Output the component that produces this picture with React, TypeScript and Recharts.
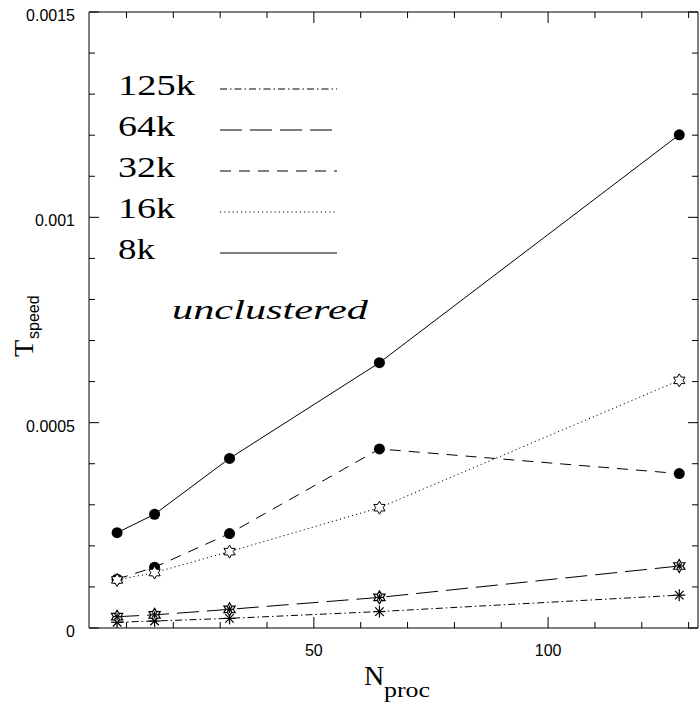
import { Legend, Line, LineChart, XAxis, YAxis } from "recharts";

// N_proc values and T_speed per problem size
const nproc = [8, 16, 32, 64, 128];
const t125k = [0.000014, 0.000017, 0.0000235, 0.00004, 0.00008];
const t64k = [0.0000275, 0.000032, 0.0000455, 0.0000745, 0.000151];
const t32k = [0.000119, 0.000148, 0.00023, 0.000436, 0.000376];
const t16k = [0.000117, 0.000135, 0.000186, 0.000293, 0.000603];
const t8k = [0.000232, 0.000277, 0.000413, 0.000646, 0.001201];

const seriesNames = ["125k", "64k", "32k", "16k", "8k"];

const xTicks = [10, 20, 30, 40, 50, 60, 70, 80, 90, 100, 110, 120, 130];
const xMajor = [50, 100];
const yTicks = [
  0, 0.0001, 0.0002, 0.0003, 0.0004, 0.0005, 0.0006, 0.0007, 0.0008, 0.0009,
  0.001, 0.0011, 0.0012, 0.0013, 0.0014, 0.0015
];
const yLabels = ["0", "0.0005", "0.001", "0.0015"];

const rows = nproc.map((n, i) => ({
  n,
  k125: t125k[i],
  k64: t64k[i],
  k32: t32k[i],
  k16: t16k[i],
  k8: t8k[i]
}));

const SANS = "'Liberation Sans', Arial, Helvetica, sans-serif";
const SERIF = "'Liberation Serif', 'DejaVu Serif', serif";

function starPoints(cx: number, cy: number, r: number) {
  const pts: string[] = [];
  for (let k = 0; k < 12; k++) {
    const rr = k % 2 === 0 ? r : r / Math.sqrt(3);
    const a = (Math.PI / 6) * k - Math.PI / 2;
    pts.push(`${cx + rr * Math.cos(a)},${cy + rr * Math.sin(a)}`);
  }
  return pts.join(" ");
}

function Asterisk({ cx, cy, r }: { cx: number; cy: number; r: number }) {
  const arms = [0, 45, 90, 135];
  return (
    <g>
      {arms.map((d) => {
        const a = (d * Math.PI) / 180;
        return (
          <line
            key={d}
            x1={cx - r * Math.cos(a)}
            y1={cy - r * Math.sin(a)}
            x2={cx + r * Math.cos(a)}
            y2={cy + r * Math.sin(a)}
            stroke="#000"
            strokeWidth={1.2}
          />
        );
      })}
    </g>
  );
}

const circleDot = (p: any) => (
  <circle key={p.key} cx={p.cx} cy={p.cy} r={5.5} fill="#000" stroke="none" />
);
const starDot = (p: any) => (
  <polygon key={p.key} points={starPoints(p.cx, p.cy, 6.5)} fill="#fff" stroke="#000" strokeWidth={1} />
);
const starAstDot = (p: any) => (
  <g key={p.key}>
    <polygon points={starPoints(p.cx, p.cy, 6.5)} fill="#fff" stroke="#000" strokeWidth={1.2} />
    <Asterisk cx={p.cx} cy={p.cy} r={3.5} />
  </g>
);
const astDot = (p: any) => (
  <g key={p.key}>
    <Asterisk cx={p.cx} cy={p.cy} r={6} />
  </g>
);

const BottomTick = (props: any) => {
  const { x, y, payload } = props;
  const major = xMajor.includes(payload.value);
  return (
    <g>
      <line x1={x} x2={x} y1={y} y2={y - (major ? 11 : 6)} stroke="#000" />
      {major && (
        <text x={x} y={y + 28} textAnchor="middle" fontSize={16} fontFamily={SANS} fill="#000">
          {payload.value}
        </text>
      )}
    </g>
  );
};

const TopTick = (props: any) => {
  const { x, y, payload } = props;
  const major = xMajor.includes(payload.value);
  return <line x1={x} x2={x} y1={y} y2={y + (major ? 11 : 6)} stroke="#000" />;
};

const LeftTick = (props: any) => {
  const { x, y, index } = props;
  const major = index % 5 === 0;
  return (
    <g>
      <line x1={x} x2={x + (major ? 10 : 6)} y1={y} y2={y} stroke="#000" />
      {major && (
        <text x={x - 14} y={y + 9} textAnchor="end" fontSize={16} fontFamily={SANS} fill="#000">
          {yLabels[index / 5]}
        </text>
      )}
    </g>
  );
};

const RightTick = (props: any) => {
  const { x, y, index } = props;
  const major = index % 5 === 0;
  return <line x1={x} x2={x - (major ? 10 : 6)} y1={y} y2={y} stroke="#000" />;
};

const legendWidths: Record<string, number> = { "125k": 77, "64k": 57, "32k": 57, "16k": 57, "8k": 37 };

const LegendBox = ({ payload }: any) => (
  <svg width={700} height={704} style={{ display: "block" }}>
    {(payload || []).map((entry: any, i: number) => {
      const base = 95 + i * 41;
      const label = String(entry.value);
      return (
        <g key={label}>
          <text
            x={118}
            y={base}
            fontSize={30}
            fontFamily={SERIF}
            fill="#000"
            textLength={legendWidths[label]}
            lengthAdjust="spacingAndGlyphs"
          >
            {label}
          </text>
          <line
            x1={220}
            x2={337}
            y1={base - 6}
            y2={base - 6}
            stroke="#000"
            strokeWidth={1}
            strokeDasharray={entry.payload?.strokeDasharray}
          />
        </g>
      );
    })}
    <text
      x={172}
      y={319}
      fontSize={28}
      fontStyle="italic"
      fontFamily={SERIF}
      fill="#000"
      textLength={196}
      lengthAdjust="spacingAndGlyphs"
    >
      unclustered
    </text>
  </svg>
);

const XLabel = () => (
  <g>
    <text x={364} y={685} fontSize={28} fontFamily={SERIF} fill="#000">
      N
    </text>
    <text x={384} y={697} fontSize={20} fontFamily={SERIF} fill="#000" textLength={46} lengthAdjust="spacingAndGlyphs">
      proc
    </text>
  </g>
);

const YLabel = () => (
  <g transform="rotate(-90 33 357)">
    <text x={33} y={357} fontSize={28} fontFamily={SERIF} fill="#000">
      T
    </text>
    <text x={51} y={363} fontSize={16} fontFamily={SANS} fill="#000">
      speed
    </text>
  </g>
);

export default function App() {
  return (
    <div style={{ width: 700, height: 704, background: "#fff", position: "relative" }}>
      <style>{"body{margin:0;background:#fff}"}</style>
      <LineChart width={700} height={704} data={rows} margin={{ top: 11, right: 1, bottom: 75, left: 88 }}>
        <XAxis
          xAxisId="b"
          dataKey="n"
          type="number"
          domain={[2, 132]}
          allowDataOverflow
          ticks={xTicks}
          interval={0}
          height={1}
          tickSize={0}
          tickMargin={0}
          tickLine={false}
          tick={<BottomTick />}
          axisLine={{ stroke: "#000" }}
          label={<XLabel />}
        />
        <XAxis
          xAxisId="t"
          orientation="top"
          dataKey="n"
          type="number"
          domain={[2, 132]}
          allowDataOverflow
          ticks={xTicks}
          interval={0}
          height={1}
          tickSize={0}
          tickMargin={0}
          tickLine={false}
          tick={<TopTick />}
          axisLine={{ stroke: "#000" }}
        />
        <YAxis
          yAxisId="l"
          type="number"
          domain={[0, 0.0015]}
          allowDataOverflow
          ticks={yTicks}
          interval={0}
          width={1}
          tickSize={0}
          tickMargin={0}
          tickLine={false}
          tick={<LeftTick />}
          axisLine={{ stroke: "#000" }}
          label={<YLabel />}
        />
        <YAxis
          yAxisId="r"
          orientation="right"
          type="number"
          domain={[0, 0.0015]}
          allowDataOverflow
          ticks={yTicks}
          interval={0}
          width={1}
          tickSize={0}
          tickMargin={0}
          tickLine={false}
          tick={<RightTick />}
          axisLine={{ stroke: "#000" }}
        />
        <Legend
          layout="vertical"
          align="center"
          verticalAlign="middle"
          itemSorter={(item: any) => seriesNames.indexOf(String(item.value))}
          content={<LegendBox />}
          wrapperStyle={{ position: "absolute", left: 0, top: 0, width: 700, height: 704, pointerEvents: "none" }}
        />
        <Line xAxisId="b" yAxisId="l" name="125k" dataKey="k125" stroke="#000" strokeWidth={1} strokeDasharray="7 3 1.5 3" dot={astDot} isAnimationActive={false} />
        <Line xAxisId="b" yAxisId="l" name="64k" dataKey="k64" stroke="#000" strokeWidth={1} strokeDasharray="22 8" dot={starAstDot} isAnimationActive={false} />
        <Line xAxisId="b" yAxisId="l" name="32k" dataKey="k32" stroke="#000" strokeWidth={1} strokeDasharray="11 8" dot={circleDot} isAnimationActive={false} />
        <Line xAxisId="b" yAxisId="l" name="16k" dataKey="k16" stroke="#000" strokeWidth={1} strokeDasharray="1.2 3" dot={starDot} isAnimationActive={false} />
        <Line xAxisId="b" yAxisId="l" name="8k" dataKey="k8" stroke="#000" strokeWidth={1} dot={circleDot} isAnimationActive={false} />
      </LineChart>
    </div>
  );
}
